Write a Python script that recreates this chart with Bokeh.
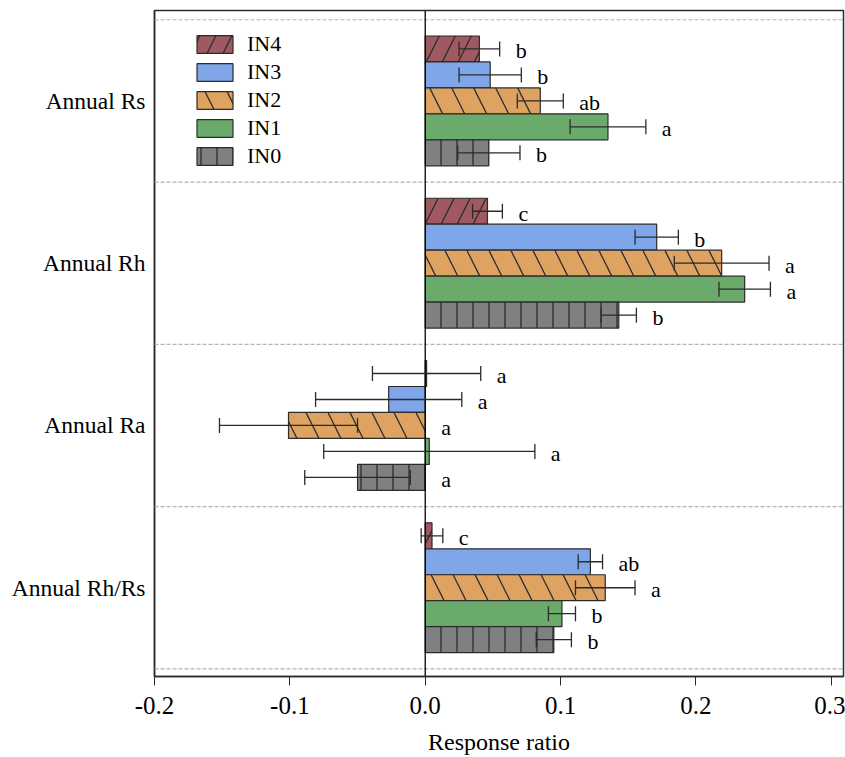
from bokeh.plotting import figure
from bokeh.models import ColumnDataSource, FixedTicker, NumeralTickFormatter, Span, Whisker, TeeHead
from bokeh.embed import file_html
from bokeh.resources import INLINE
from bokeh.core.properties import value

# Respiration components (top to bottom) and nitrogen input levels
groups = ["Annual Rs", "Annual Rh", "Annual Ra", "Annual Rh/Rs"]
treatments = ["IN4", "IN3", "IN2", "IN1", "IN0"]

# Response ratio, standard error and significance letters per treatment
in4 = [0.040, 0.046, 0.001, 0.005]
in4_err = [0.015, 0.011, 0.040, 0.008]
in4_sig = ["b", "c", "a", "c"]

in3 = [0.048, 0.171, -0.027, 0.122]
in3_err = [0.023, 0.016, 0.054, 0.009]
in3_sig = ["b", "b", "a", "ab"]

in2 = [0.085, 0.219, -0.101, 0.133]
in2_err = [0.017, 0.035, 0.051, 0.022]
in2_sig = ["ab", "a", "a", "a"]

in1 = [0.135, 0.236, 0.003, 0.101]
in1_err = [0.028, 0.019, 0.078, 0.010]
in1_sig = ["a", "a", "a", "b"]

in0 = [0.047, 0.143, -0.050, 0.095]
in0_err = [0.023, 0.013, 0.039, 0.013]
in0_sig = ["b", "b", "a", "b"]

x_ticks = [-0.2, -0.1, 0.0, 0.1, 0.2, 0.3]

series = [
    (in4, in4_err, in4_sig),
    (in3, in3_err, in3_sig),
    (in2, in2_err, in2_sig),
    (in1, in1_err, in1_sig),
    (in0, in0_err, in0_sig),
]

styles = {
    "IN4": dict(fill="#9e5a60", hatch="/", scale=32),
    "IN3": dict(fill="#7ea6e8", hatch=None, scale=None),
    "IN2": dict(fill="#dea261", hatch="\\", scale=44),
    "IN1": dict(fill="#6aab6b", hatch=None, scale=None),
    "IN0": dict(fill="#808080", hatch="|", scale=16),
}

SERIF = "Liberation Serif"
INK = "#2b2b2b"
BAR_H = 0.16
offsets = [0.32, 0.16, 0.0, -0.16, -0.32]
n_groups = len(groups)
centers = [n_groups - 1 - i for i in range(n_groups)]

p = figure(width=845, height=757,
           x_range=(-0.2, 0.309), y_range=(-0.547, 3.557),
           output_backend="svg", toolbar_location=None,
           min_border_left=154, min_border_right=2,
           min_border_top=10, min_border_bottom=81)
p.grid.visible = False
p.outline_line_color = INK
p.outline_line_width = 1.5
p.background_fill_color = "white"

# group separators
for k in range(n_groups + 1):
    p.add_layout(Span(location=k - 0.5, dimension="width", line_color="#b4b4b4",
                      line_dash="4 2", line_width=1.2))
# zero reference
p.add_layout(Span(location=0, dimension="height", line_color="black", line_width=1.3))

for name, off, (vals, errs, sig) in zip(treatments, offsets, series):
    ys = [c + off for c in centers]
    lo = [v - e for v, e in zip(vals, errs)]
    hi = [v + e for v, e in zip(vals, errs)]
    tx = [max(h, 0.0) for h in hi]
    src = ColumnDataSource(dict(y=ys, v=vals, lo=lo, hi=hi, tx=tx, sig=sig))
    st = styles[name]
    kw = dict(fill_color=st["fill"], line_color=INK, line_width=1.2, legend_label=name)
    if st["hatch"]:
        kw.update(hatch_pattern=st["hatch"], hatch_scale=st["scale"],
                  hatch_color=INK, hatch_weight=1.3)
    p.hbar(y="y", left=0, right="v", height=BAR_H, source=src, **kw)

    p.add_layout(Whisker(source=src, base="y", lower="lo", upper="hi", dimension="width",
                         level="annotation", line_color=INK, line_width=1.3,
                         upper_head=TeeHead(size=15, line_color=INK, line_width=1.3),
                         lower_head=TeeHead(size=15, line_color=INK, line_width=1.3)))

    p.text(x="tx", y="y", text="sig", source=src, x_offset=16, y_offset=2,
           text_font=value(SERIF), text_font_size="22px", text_color="black",
           text_baseline="middle", text_align="left")

# x axis
xa = p.xaxis[0]
xa.ticker = FixedTicker(ticks=x_ticks)
xa.formatter = NumeralTickFormatter(format="0.0")
xa.minor_tick_line_color = None
xa.major_tick_out = 9
xa.major_tick_in = 0
xa.major_tick_line_color = INK
xa.axis_line_color = INK
xa.axis_line_width = 1.5
xa.major_label_text_font = SERIF
xa.major_label_text_font_size = "25px"
xa.major_label_text_color = "black"
xa.major_label_standoff = 11
xa.axis_label = "Response ratio"
xa.axis_label_text_font = SERIF
xa.axis_label_text_font_size = "24px"
xa.axis_label_text_font_style = "normal"
xa.axis_label_text_color = "black"
xa.axis_label_standoff = 12

# y axis with group names
ya = p.yaxis[0]
ya.ticker = FixedTicker(ticks=centers)
ya.major_label_overrides = {c: g for c, g in zip(centers, groups)}
ya.major_tick_out = 0
ya.major_tick_in = 0
ya.minor_tick_line_color = None
ya.axis_line_color = INK
ya.axis_line_width = 1.5
ya.major_label_text_font = SERIF
ya.major_label_text_font_size = "23.5px"
ya.major_label_text_color = "black"
ya.major_label_standoff = 9

lg = p.legend[0]
lg.location = (38, 507)
lg.padding = 0
lg.margin = 0
lg.border_line_color = None
lg.background_fill_alpha = 0
lg.glyph_width = 45
lg.glyph_height = 22
lg.label_height = 22
lg.spacing = 2
lg.label_standoff = 10
lg.label_text_font = SERIF
lg.label_text_font_size = "22px"
lg.label_text_color = "black"

open("out.html", "w").write(file_html(p, INLINE))
